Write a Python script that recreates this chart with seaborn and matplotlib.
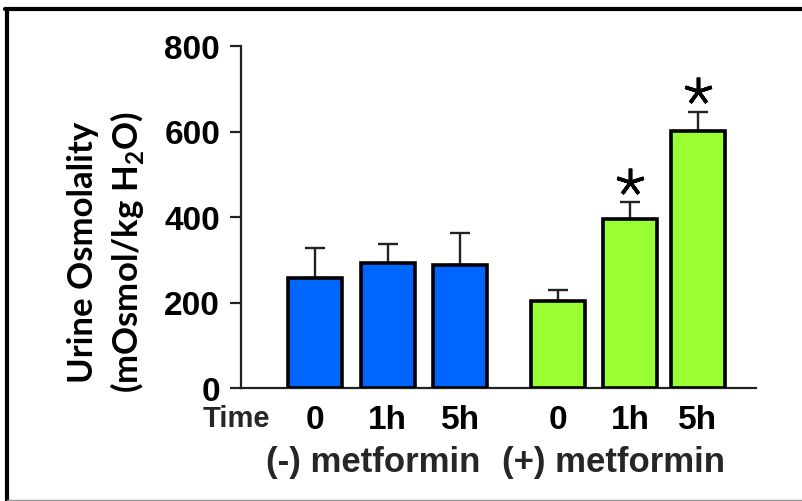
import numpy as np
import pandas as pd
import seaborn as sns
import matplotlib.pyplot as plt
from matplotlib.lines import Line2D

# Данные
time_labels = ['0', '1h', '5h', '0', '1h', '5h']
groups = ['(-) metformin', '(-) metformin', '(-) metformin',
          '(+) metformin', '(+) metformin', '(+) metformin']
osmolality = [257, 292, 288, 203, 395, 601]
sem = [70, 45, 75, 26, 40, 45]
significant = [False, False, False, False, True, True]

# Расположение столбиков (с промежутком между группами)
bar_pos = [0, 1, 2, 3.345, 4.345, 5.276]

sns.set_theme(style='white')
plt.rcParams['font.family'] = ['Liberation Sans', 'DejaVu Sans']
plt.rcParams['mathtext.fontset'] = 'custom'
plt.rcParams['mathtext.rm'] = 'Lato:bold'

df = pd.DataFrame({'pos': bar_pos, 'value': osmolality, 'group': groups})

fig = plt.figure(figsize=(8.03, 5.02), dpi=100)
ax = fig.add_axes([241 / 803, 1 - 389 / 502, 515 / 803, 342 / 502])

sns.barplot(data=df, x='pos', y='value', hue='group', native_scale=True,
            palette={'(-) metformin': '#0066FF', '(+) metformin': '#99FF33'},
            saturation=1, edgecolor='black', linewidth=2.6, dodge=False,
            errorbar=None, legend=False, ax=ax, zorder=3)

ax.errorbar(bar_pos, osmolality, yerr=[np.zeros(len(sem)), sem], fmt='none',
            ecolor='#222222', elinewidth=1.7, capsize=7, capthick=1.7, zorder=2)

# Звёздочки значимости
star_x = [p for p, s in zip(bar_pos, significant) if s]
star_y = [v + e + 48 for v, e, s in zip(osmolality, sem, significant) if s]
ax.plot(star_x, star_y, linestyle='none', marker=(5, 2, 0), markersize=20,
        markeredgewidth=2.6, color='black', zorder=4, clip_on=False)

ax.set_ylim(0, 800)
ax.set_xlim(-1.02, 6.08)
ax.set_yticks([0, 200, 400, 600, 800])
ax.set_xticks(bar_pos)
ax.set_xticklabels(time_labels)
ax.set_xlabel('')
ax.set_ylabel('')

for sp in ['top', 'right']:
    ax.spines[sp].set_visible(False)
for sp in ['left', 'bottom']:
    ax.spines[sp].set_color('#222222')
    ax.spines[sp].set_linewidth(1.6)

ax.tick_params(axis='y', length=8, width=1.6, color='#222222', pad=7,
               labelsize=24, left=True, direction='out')
ax.tick_params(axis='x', length=0, pad=11.5, labelsize=24)
for lab in ax.get_yticklabels() + ax.get_xticklabels():
    lab.set_fontweight('bold')
    lab.set_color('black')

ax.text(-0.262, 0.40, 'Urine Osmolality\n(mOsmol/kg H$_2$O)', transform=ax.transAxes,
        rotation=90, ha='center', va='center', multialignment='center',
        fontsize=25, linespacing=1.3, color='black', family='Lato',
        fontweight='bold')

trans = ax.get_xaxis_transform()
ax.text(-1.08, -0.11, 'Time', transform=trans, ha='center', va='baseline',
        fontsize=21, fontweight='bold', clip_on=False)
for name in ['(-) metformin', '(+) metformin']:
    xs = [p for p, g in zip(bar_pos, groups) if g == name]
    ax.text(np.mean(xs) - 0.2, -0.243, name, transform=trans, ha='center',
            va='baseline', fontsize=25, fontweight='bold', clip_on=False)

# Рамка слайда
fig.add_artist(Line2D([7 / 803, 7 / 803], [0, 1 - 10 / 502], transform=fig.transFigure,
                      color='black', linewidth=3))
fig.add_artist(Line2D([5 / 803, 1], [1 - 10 / 502, 1 - 10 / 502], transform=fig.transFigure,
                      color='black', linewidth=3))
fig.add_artist(Line2D([7 / 803, 1], [1.5 / 502, 1.5 / 502], transform=fig.transFigure,
                      color='#999999', linewidth=1))

fig.savefig('out.png', dpi=100)
